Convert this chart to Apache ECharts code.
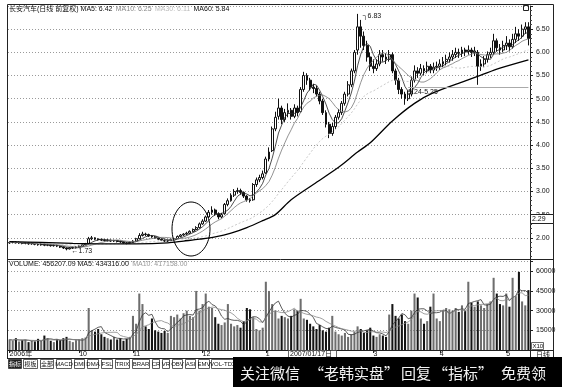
<!DOCTYPE html>
<html><head><meta charset="utf-8">
<script src="https://cdn.jsdelivr.net/npm/echarts@6/dist/echarts.min.js"></script>
<style>html,body{margin:0;padding:0;background:#fff}#c{width:562px;height:387px}</style>
</head><body><div id="c"></div>
<script>
// ---- data ----
const monthTicks = [0, 22, 39, 61, 81, 115, 136, 157];
const monthNames = ['2006年', '10', '11', '12', '1', '3', '4', '5'];

const openP = [
1.89,1.90,1.91,1.89,1.90,1.88,1.89,1.87,1.88,1.86,
1.85,1.86,1.84,1.85,1.83,1.84,1.82,1.80,1.78,1.76,
1.78,1.79,1.80,1.82,1.85,1.88,1.98,2.00,1.97,1.96,
1.95,1.94,1.95,1.93,1.94,1.92,1.91,1.89,1.88,1.90,
1.93,1.98,2.05,2.08,2.07,2.04,2.02,2.00,1.97,1.95,
1.93,1.94,1.96,1.98,2.03,2.06,2.08,2.10,2.14,2.18,
2.22,2.30,2.36,2.45,2.55,2.60,2.52,2.45,2.52,2.72,
2.80,2.92,3.00,3.02,2.98,2.90,2.82,2.82,3.15,3.25,
3.30,3.40,3.70,3.88,4.35,4.62,4.80,4.55,4.70,4.75,
4.62,4.80,4.72,5.20,5.50,5.40,5.25,5.22,5.10,4.95,
4.70,4.45,4.25,4.40,4.60,4.70,4.90,5.10,5.30,5.60,
6.05,6.55,6.35,6.15,5.90,5.70,5.65,5.75,5.95,5.90,
5.85,5.95,5.60,5.40,5.20,5.10,5.00,5.10,5.40,5.60,
5.55,5.65,5.60,5.70,5.62,5.68,5.70,5.75,5.80,5.85,
5.90,5.95,6.00,5.98,6.05,6.02,6.05,6.00,6.00,5.70,
5.75,5.85,5.95,6.00,6.25,6.10,6.05,6.15,6.20,6.12,
6.28,6.40,6.35,6.50,6.55];
const closeP = [
1.90,1.91,1.89,1.90,1.88,1.89,1.87,1.88,1.86,1.85,
1.86,1.84,1.85,1.83,1.84,1.82,1.80,1.78,1.76,1.78,
1.79,1.80,1.82,1.85,1.87,1.98,2.00,1.97,1.96,1.95,
1.94,1.95,1.93,1.94,1.92,1.91,1.89,1.88,1.90,1.93,
1.98,2.05,2.08,2.07,2.04,2.02,2.00,1.97,1.95,1.93,
1.94,1.96,1.98,2.03,2.06,2.08,2.10,2.14,2.18,2.22,
2.30,2.36,2.45,2.55,2.60,2.52,2.45,2.50,2.72,2.80,
2.92,3.00,3.02,2.98,2.90,2.82,2.80,3.15,3.25,3.30,
3.38,3.70,3.85,4.35,4.60,4.80,4.55,4.70,4.75,4.62,
4.80,4.70,5.20,5.50,5.40,5.25,5.22,5.10,4.95,4.70,
4.45,4.25,4.40,4.60,4.70,4.90,5.10,5.30,5.60,6.00,
6.55,6.35,6.15,5.90,5.70,5.65,5.75,5.95,5.90,5.85,
5.95,5.60,5.40,5.20,5.10,5.00,5.10,5.40,5.60,5.55,
5.65,5.60,5.70,5.62,5.68,5.70,5.75,5.80,5.85,5.90,
5.95,6.00,5.98,6.05,6.02,6.05,6.00,6.03,5.70,5.75,
5.85,5.95,6.00,6.25,6.10,6.05,6.15,6.20,6.12,6.28,
6.40,6.35,6.50,6.55,6.30];
const lowP = [
1.87,1.88,1.88,1.87,1.86,1.86,1.85,1.85,1.84,1.83,
1.83,1.82,1.82,1.81,1.81,1.80,1.78,1.76,1.73,1.75,
1.76,1.77,1.79,1.81,1.84,1.87,1.95,1.95,1.94,1.93,
1.92,1.92,1.91,1.91,1.90,1.89,1.87,1.86,1.87,1.89,
1.92,1.97,2.03,2.04,2.02,2.00,1.98,1.95,1.93,1.91,
1.91,1.93,1.95,1.97,2.01,2.04,2.06,2.08,2.12,2.16,
2.20,2.28,2.34,2.43,2.50,2.48,2.40,2.42,2.50,2.68,
2.78,2.88,2.95,2.93,2.86,2.78,2.76,2.80,3.10,3.20,
3.26,3.38,3.65,3.85,4.30,4.55,4.45,4.50,4.60,4.55,
4.58,4.62,4.70,5.15,5.30,5.18,5.12,5.05,4.88,4.65,
4.38,4.15,4.20,4.35,4.55,4.65,4.85,5.05,5.25,5.55,
5.95,6.10,6.05,5.80,5.60,5.55,5.60,5.70,5.80,5.75,
5.80,5.55,5.30,5.10,5.00,4.87,4.95,5.05,5.35,5.45,
5.50,5.50,5.55,5.55,5.55,5.60,5.62,5.68,5.72,5.78,
5.82,5.88,5.88,5.90,5.92,5.95,5.90,5.92,5.30,5.60,
5.68,5.78,5.88,5.95,6.02,5.95,6.00,6.05,6.02,6.08,
6.20,6.25,6.30,6.40,6.15];
const highP = [
1.92,1.93,1.92,1.92,1.91,1.91,1.90,1.90,1.89,1.88,
1.88,1.87,1.87,1.86,1.86,1.85,1.83,1.81,1.79,1.80,
1.81,1.82,1.84,1.86,1.89,2.02,2.04,2.01,1.99,1.98,
1.97,1.97,1.96,1.96,1.95,1.94,1.92,1.91,1.92,1.95,
2.00,2.10,2.13,2.11,2.09,2.06,2.04,2.01,1.98,1.96,
1.96,1.98,2.00,2.05,2.08,2.10,2.13,2.16,2.20,2.25,
2.33,2.40,2.48,2.60,2.68,2.63,2.55,2.54,2.75,2.85,
2.96,3.05,3.08,3.06,3.00,2.92,2.86,3.18,3.30,3.36,
3.45,3.75,3.95,4.40,4.72,5.00,4.85,4.78,4.90,4.80,
4.88,4.85,5.25,5.58,5.55,5.45,5.32,5.28,5.15,5.00,
4.75,4.50,4.48,4.65,4.78,4.95,5.15,5.38,5.65,6.05,
6.83,6.70,6.45,6.25,6.00,5.85,5.85,6.05,6.05,5.98,
6.05,6.00,5.65,5.45,5.25,5.15,5.18,5.48,5.72,5.68,
5.75,5.72,5.80,5.75,5.78,5.80,5.85,5.90,5.95,6.00,
6.05,6.10,6.08,6.12,6.10,6.15,6.10,6.12,6.05,5.85,
5.92,6.02,6.10,6.40,6.30,6.18,6.25,6.35,6.28,6.40,
6.55,6.50,6.60,6.65,6.65];
const volumes = [
8000,7000,9000,6500,7500,8000,6000,7000,6500,8500,
7000,11000,9000,7000,6000,8000,7500,9000,10000,7000,
6000,7500,8000,9000,9500,32000,15000,14000,16000,12000,
10000,9000,8000,10000,8000,9000,7000,8500,10000,26000,
20000,43000,35000,18000,16000,24000,15000,14000,13000,14500,
13000,26000,25000,27000,24000,28000,30000,26000,25000,45000,
30000,35000,43000,33000,32000,25000,20000,19000,21000,35000,
20000,18000,19000,17000,22000,32000,31000,25000,16000,15000,
17000,52000,45000,35000,30000,24000,26000,25000,24000,26000,
31000,30000,39000,24000,23000,20000,18000,16000,19000,15000,
14000,17000,26000,14000,12000,11000,13000,10000,12000,14000,
18000,16000,13000,15000,17000,11000,10000,12000,11000,10000,
27000,35000,26000,24000,27000,22000,20000,30000,43000,40000,
24000,20000,22000,33000,43000,24000,22000,30000,32000,31000,
30000,32000,29000,34000,30000,52000,36000,33000,37000,34000,
32000,35000,37000,55000,43000,35000,34000,43000,33000,55000,
41000,59500,37000,34000,45620];
const ma60Idx = [0,10,20,30,40,50,55,60,65,70,75,80,84,89,96,104,110,114,121,128,134,143,149,155,164];
const ma60Val = [1.92,1.90,1.88,1.87,1.87,1.89,1.93,1.97,2.02,2.10,2.22,2.37,2.50,2.82,3.15,3.52,3.85,4.05,4.52,4.90,5.13,5.36,5.51,5.66,5.84];
const priceTicks = [2.0, 2.5, 3.0, 3.5, 4.0, 4.5, 5.0, 5.5, 6.0, 6.5];
const volTicks = [15000, 30000, 45000, 60000];

// ---- build ----
const N = closeP.length;
const cats = closeP.map((_, i) => 'd' + i);
const kData = closeP.map((c, i) => [openP[i], c, lowP[i], highP[i]]);
function movingAvg(arr, n) {
  return arr.map((_, i) => { const s = Math.max(0, i - n + 1); let t = 0; for (let k = s; k <= i; k++) t += arr[k]; return +(t / (i - s + 1)).toFixed(3); });
}
const ma60 = new Array(N).fill(null);
ma60Idx.forEach((ix, k) => { ma60[ix] = ma60Val[k]; });
const volData = volumes.map((v, i) => ({ value: v, itemStyle: { color: closeP[i] >= openP[i] ? '#6e6e6e' : '#141414' } }));
const labelMap = {}; monthTicks.forEach((t, k) => labelMap[t] = monthNames[k]);

const FONT = 'Liberation Sans, DejaVu Sans, Noto Sans CJK SC, sans-serif';
const chart = echarts.init(document.getElementById('c'), null, { renderer: 'canvas' });

const buttons = [['指标',8,22],['模板',23,38],['全部',40,54],['MACD',56,72],['DMI',74,85],['DMA',87,99],['FSL',101,113],['TRIX',115,130],['BRAR',132,150],['CR',152,160],['VR',162,170],['OBV',172,183],['ASI',185,196],['EMV',198,210],['VOL-TDX',211,235]];
const graphics = [];
graphics.push({ type: 'rect', shape: { x: 7.5, y: 4.5, width: 546, height: 354 }, style: { fill: 'none', stroke: '#222', lineWidth: 1 }, z: 50 });
graphics.push({ type: 'line', shape: { x1: 7, y1: 259.5, x2: 554, y2: 259.5 }, style: { stroke: '#222', lineWidth: 1 }, z: 50 });
graphics.push({ type: 'line', shape: { x1: 530, y1: 350.5, x2: 554, y2: 350.5 }, style: { stroke: '#222', lineWidth: 1 }, z: 50 });
graphics.push({ type: 'line', shape: { x1: 7, y1: 358.5, x2: 554, y2: 358.5 }, style: { stroke: '#222', lineWidth: 1 }, z: 50 });
graphics.push({ type: 'line', shape: { x1: 530.5, y1: 350, x2: 530.5, y2: 358 }, style: { stroke: '#222', lineWidth: 1 }, z: 50 });
graphics.push({ type: 'rect', shape: { x: 530.5, y: 214.5, width: 23, height: 9 }, style: { fill: '#fff', stroke: '#222', lineWidth: 1 }, z: 60 });
graphics.push({ type: 'text', x: 532, y: 219.5, style: { text: '2.29', fill: '#111', font: '7px ' + FONT, verticalAlign: 'middle' }, z: 61 });
graphics.push({ type: 'rect', shape: { x: 523.5, y: 5.5, width: 5, height: 5 }, style: { fill: 'none', stroke: '#222', lineWidth: 1 }, z: 60 });
graphics.push({ type: 'text', x: 9, y: 9, style: { text: '{a|长安汽车(日线 前复权) MA5: 6.42} {b|MA10: 6.25} {c|MA30: 6.11} {a|MA60: 5.84}', verticalAlign: 'middle',
  rich: { a: { fill: '#111', font: '7px ' + FONT }, b: { fill: '#888', font: '7px ' + FONT }, c: { fill: '#bbb', font: '7px ' + FONT } } }, z: 60 });
graphics.push({ type: 'text', x: 9, y: 264, style: { text: '{a|VOLUME: 456207.09 MA5: 434316.00} {b|MA10: 417158.00}', verticalAlign: 'middle',
  rich: { a: { fill: '#111', font: '7px ' + FONT }, b: { fill: '#999', font: '7px ' + FONT } } }, z: 60 });
graphics.push({ type: 'ellipse', shape: { cx: 191, cy: 229, rx: 19, ry: 27 }, style: { fill: 'none', stroke: '#000', lineWidth: 1 }, z: 60 });
graphics.push({ type: 'rect', shape: { x: 288.5, y: 350.5, width: 48, height: 7 }, style: { fill: '#fff', stroke: '#444', lineWidth: 0.8 }, z: 60 });
graphics.push({ type: 'text', x: 290, y: 354.5, style: { text: '2007/01/17日', fill: '#111', font: '7px ' + FONT, verticalAlign: 'middle' }, z: 61 });
graphics.push({ type: 'rect', shape: { x: 531.5, y: 342.5, width: 12, height: 7 }, style: { fill: '#fff', stroke: '#444', lineWidth: 0.8 }, z: 60 });
graphics.push({ type: 'text', x: 532.5, y: 346.5, style: { text: 'X10', fill: '#111', font: '6px ' + FONT, verticalAlign: 'middle' }, z: 61 });
graphics.push({ type: 'text', x: 536, y: 354.5, style: { text: '日线', fill: '#111', font: '7px Noto Sans CJK SC', verticalAlign: 'middle' }, z: 61 });
buttons.forEach(([t, x1, x2], k) => {
  graphics.push({ type: 'rect', shape: { x: x1 + 0.5, y: 359.5, width: x2 - x1 - 1, height: 9 }, style: { fill: k === 0 ? '#222' : '#fff', stroke: '#333', lineWidth: 0.8 }, z: 60 });
  graphics.push({ type: 'text', x: (x1 + x2) / 2, y: 364, style: { text: t, fill: k === 0 ? '#fff' : '#111', font: '6px ' + FONT, align: 'center', verticalAlign: 'middle' }, z: 61 });
});
graphics.push({ type: 'rect', shape: { x: 233, y: 357, width: 329, height: 30 }, style: { fill: '#000' }, z: 70 });
[['关注微信', 240], ['“老韩实盘”', 309], ['回复', 401], ['“指标”', 433], ['免费领', 501]].forEach(([t, x]) => {
  graphics.push({ type: 'text', x: x, y: 373, style: { text: t, fill: '#f2f2f2', font: '15px Noto Sans CJK SC', verticalAlign: 'middle' }, z: 71 });
});

const option = {
  animation: false,
  backgroundColor: '#fff',
  textStyle: { fontFamily: FONT },
  grid: [
    { left: 8, right: 32, top: 6, bottom: 126 },
    { left: 8, right: 32, top: 261, bottom: 37 }
  ],
  xAxis: [
    { type: 'category', gridIndex: 0, data: cats, boundaryGap: true, axisLine: { show: false }, axisTick: { show: false }, axisLabel: { show: false }, splitLine: { show: false } },
    { type: 'category', gridIndex: 1, data: cats, boundaryGap: true,
      axisLine: { show: true, lineStyle: { color: '#222', width: 1 } },
      axisTick: { show: true, alignWithLabel: true, length: 3, lineStyle: { color: '#222' }, interval: (i) => labelMap[i] !== undefined },
      axisLabel: { show: true, interval: (i) => labelMap[i] !== undefined, formatter: (v, i) => labelMap[i] || '', align: 'left', margin: 1, fontSize: 7, color: '#111', fontFamily: FONT },
      splitLine: { show: false } }
  ],
  yAxis: [
    { type: 'value', gridIndex: 0, position: 'right', min: 1.5, max: 7.0, interval: 0.5,
      axisLine: { show: true, lineStyle: { color: '#222', width: 1 } },
      axisTick: { show: true, length: 3, lineStyle: { color: '#222' } },
      minorTick: { show: true, splitNumber: 5, length: 2, lineStyle: { color: '#444' } },
      axisLabel: { show: true, margin: 6, fontSize: 7, color: '#111', fontFamily: FONT, formatter: (v) => priceTicks.some(t => Math.abs(t - v) < 1e-6) ? v.toFixed(2) : '' },
      splitLine: { show: true, lineStyle: { color: '#9a9a9a', type: [1, 2], width: 1 } } },
    { type: 'value', gridIndex: 1, position: 'right', min: 0, max: 67800, interval: 15000,
      axisLine: { show: true, lineStyle: { color: '#222', width: 1 } },
      axisTick: { show: true, length: 3, lineStyle: { color: '#222' } },
      axisLabel: { show: true, margin: 6, fontSize: 7, color: '#111', fontFamily: FONT, formatter: (v) => volTicks.includes(v) ? String(v) : '' },
      splitLine: { show: true, lineStyle: { color: '#9a9a9a', type: [1, 2], width: 1 } } }
  ],
  series: [
    { name: 'K', type: 'candlestick', xAxisIndex: 0, yAxisIndex: 0, data: kData, barWidth: '75%',
      itemStyle: { color: '#ffffff', color0: '#111111', borderColor: '#111111', borderColor0: '#111111', borderWidth: 1 },
      markPoint: { symbol: 'circle', symbolSize: 0.1, silent: true,
        data: [
          { coord: [110, 6.83], label: { show: true, formatter: '┐6.83', position: 'right', offset: [0, 2], fontSize: 7, color: '#111', fontFamily: FONT } },
          { coord: [18, 1.73], label: { show: true, formatter: '←1.73', position: 'right', offset: [0, 1], fontSize: 7, color: '#111', fontFamily: FONT } }
        ] },
      markLine: { symbol: 'none', silent: true, lineStyle: { color: '#aaa', type: 'solid', width: 1 },
        label: { show: true, position: 'insideStartBottom', formatter: '5.24-5.25', fontSize: 7, color: '#111', fontFamily: FONT, distance: [0, 1] },
        data: [[{ coord: [126, 5.25] }, { coord: [164, 5.25] }]] } },
    { name: 'MA5', type: 'line', xAxisIndex: 0, yAxisIndex: 0, data: movingAvg(closeP, 5), symbol: 'none', lineStyle: { color: '#222', width: 0.8 } },
    { name: 'MA10', type: 'line', xAxisIndex: 0, yAxisIndex: 0, data: movingAvg(closeP, 10), symbol: 'none', lineStyle: { color: '#777', width: 0.8 } },
    { name: 'MA30', type: 'line', xAxisIndex: 0, yAxisIndex: 0, data: movingAvg(closeP, 30), symbol: 'none', lineStyle: { color: '#bbb', width: 0.8, type: [2, 2] } },
    { name: 'MA60', type: 'line', xAxisIndex: 0, yAxisIndex: 0, data: ma60, connectNulls: true, smooth: 0.3, symbol: 'none', lineStyle: { color: '#000', width: 1.3 } },
    { name: 'VOL', type: 'bar', xAxisIndex: 1, yAxisIndex: 1, data: volData, barWidth: '65%' },
    { name: 'VMA5', type: 'line', xAxisIndex: 1, yAxisIndex: 1, data: movingAvg(volumes, 5), symbol: 'none', lineStyle: { color: '#333', width: 0.8 } },
    { name: 'VMA10', type: 'line', xAxisIndex: 1, yAxisIndex: 1, data: movingAvg(volumes, 10), symbol: 'none', lineStyle: { color: '#888', width: 0.8 } }
  ],
  graphic: graphics
};
chart.setOption(option);
</script>
</body></html>
